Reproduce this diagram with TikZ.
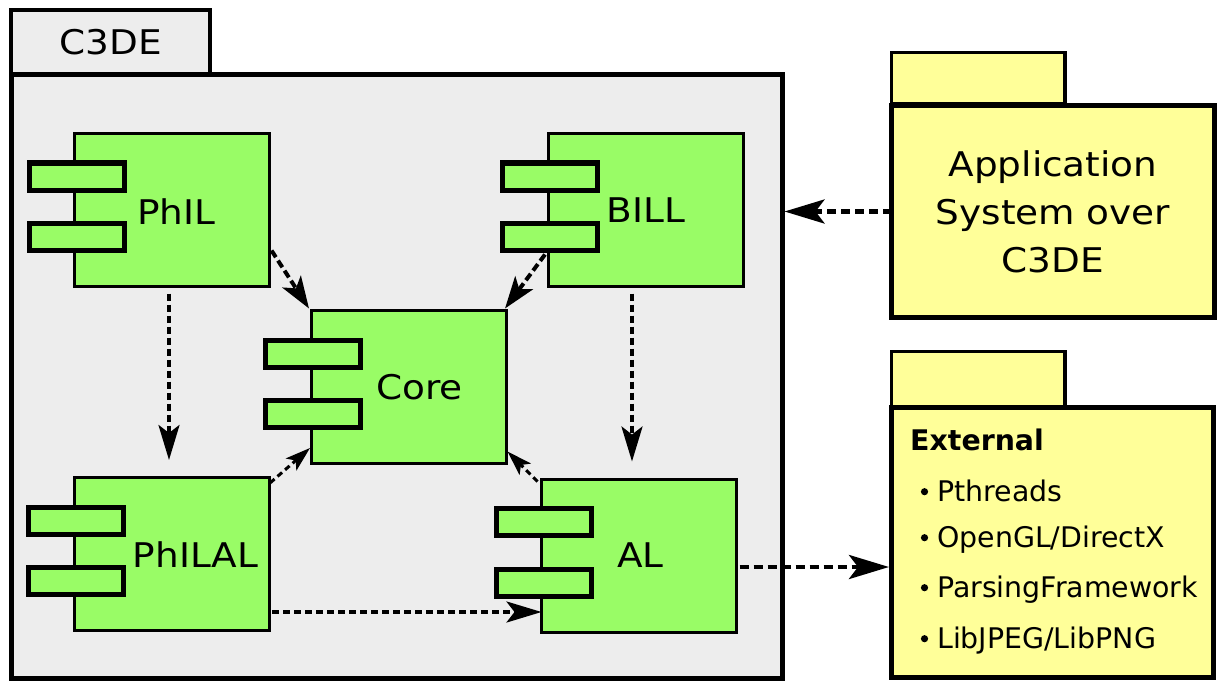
\documentclass[tikz,border=0pt]{standalone}
\usepackage{fontspec}
\setmainfont{DejaVu Sans}
\newfontfamily\widefont[FakeStretch=1.1]{DejaVu Sans}
\usetikzlibrary{arrows.meta,calc}
\definecolor{compgreen}{RGB}{153,252,102}
\definecolor{pkggray}{RGB}{237,237,237}
\definecolor{pkgyellow}{RGB}{255,255,153}
\begin{document}
\begin{tikzpicture}[x=1pt,y=-1pt,
  pkgmain/.style={draw, line width=5pt, inner sep=0pt, outer sep=0pt},
  pkgtab/.style={draw, line width=3.5pt, inner sep=0pt, outer sep=0pt},
  comp/.style={draw, line width=3pt, fill=compgreen, minimum width=195pt, minimum height=153pt, inner sep=0pt, outer sep=0pt},
  port/.style={draw, line width=5pt, fill=compgreen, minimum width=95pt, minimum height=27pt, inner sep=0pt, outer sep=0pt},
  bigtext/.style={font=\widefont\fontsize{34}{48}\selectfont},
  listtext/.style={font=\fontsize{28.4}{34}\selectfont, inner sep=0pt, anchor=base west},
  lbl/.style={bigtext, inner sep=0pt},
  deparrow/.style={line width=4.5pt, dash pattern=on 9pt off 5pt, -{Stealth[length=40pt,width=24pt,inset=9pt]}},
  usearrow/.style={line width=4pt, dash pattern=on 8pt off 4pt, -{Stealth[length=32pt,width=22pt,inset=8pt]}},
  vertarrow/.style={line width=3.5pt, dash pattern=on 7pt off 4pt, -{Stealth[length=35pt,width=21pt,inset=8pt]}},
  smallarrow/.style={line width=3pt, dash pattern=on 6pt off 4pt, -{Stealth[length=25pt,width=16pt,inset=6pt]}}
]
\useasboundingbox (0,0) rectangle (1218,682);

% C3DE package
\node[pkgtab, fill=pkggray, minimum width=199pt, minimum height=64.5pt, bigtext] (C3DEtab) at (110.5,42.25) {C3DE};
\node[pkgmain, fill=pkggray, minimum width=771pt, minimum height=603.5pt] (C3DE) at (396.5,376.25) {};

% Application package
\node[pkgtab, fill=pkgyellow, minimum width=173.5pt, minimum height=51.5pt] (Apptab) at (978.25,78.25) {};
\node[pkgmain, fill=pkgyellow, minimum width=323pt, minimum height=212.5pt, bigtext, align=center] (App) at (1053,211.5) {Application\\System over\\C3DE};

% External package
\node[pkgtab, fill=pkgyellow, minimum width=173.5pt, minimum height=56pt] (Exttab) at (978.25,379.5) {};
\node[pkgmain, fill=pkgyellow, minimum width=321.5pt, minimum height=270pt] (Ext) at (1052.25,542.5) {};
\node[listtext, font=\fontsize{28.4}{34}\selectfont\bfseries] (exttitle) at (910,450) {External};
\node[listtext] (it1) at (937,501) {Pthreads};
\node[listtext] (it2) at (937,547) {OpenGL/DirectX};
\node[listtext] (it3) at (937,597) {ParsingFramework};
\node[listtext] (it4) at (937,648) {LibJPEG/LibPNG};
\foreach \i in {1,...,4}
  \fill ($(it\i.base west)+(-12.5,-9.3)$) circle (3.6pt);

% components
\newcommand\component[2]{%
  \node[comp] (#1) at (#2) {};
  \node[port] (#1-p1) at ($(#1.west)+(2,-33.5)$) {};
  \node[port] (#1-p2) at ($(#1.west)+(2,27)$) {};
}
\component{PhIL}{172,210}
\component{BILL}{645.5,210}
\component{Core}{408.5,387}
\component{PhILAL}{171.5,554}
\component{AL}{639,555.5}

\node[lbl] (PhIL-l) at (176.5,211.5) {PhIL};
\node[lbl] (BILL-l) at (646,210) {BILL};
\node[lbl] (Core-l) at (419.5,387.5) {Core};
\node[lbl] (PhILAL-l) at (195.5,555) {PhILAL};
\node[lbl] (AL-l) at (640.5,555) {AL};

% connectors
\draw[usearrow] ($(PhIL.south east)+(2,-36)$) -- ($(Core.north west)+(-2,-2)$);
\draw[usearrow] ($(BILL.south west)+(-3,-32)$) -- ($(Core.north east)+(-1,-2)$);

\coordinate (s3) at ($(PhIL.south)+(-3,7)$);
\draw[vertarrow] (s3) -- ($(s3 |- PhILAL.north)+(0,-17.5)$);
\coordinate (s4) at ($(BILL.south)+(-13.5,7)$);
\draw[vertarrow] (s4) -- ($(s4 |- AL.north)+(0,-17.5)$);

\draw[smallarrow] ($(PhILAL.north east)+(1,5.5)$) -- ($(Core.south west)+(-1,-15.5)$);
\draw[smallarrow] ($(AL.north west)+(-4,2.5)$) -- ($(Core.south east)+(1.5,-12)$);

\coordinate (s7) at ($(PhILAL.south east)+(3,-18.5)$);
\draw[vertarrow] (s7) -- (AL.west |- s7);

\draw[deparrow] (App.west) -- ($(C3DE.east |- App.west)+(2.5,0)$);
\coordinate (alout) at ($(AL.east)+(3,11.5)$);
\draw[deparrow] (alout) -- ($(Ext.west |- alout)+(-2.5,0)$);
\end{tikzpicture}
\end{document}
